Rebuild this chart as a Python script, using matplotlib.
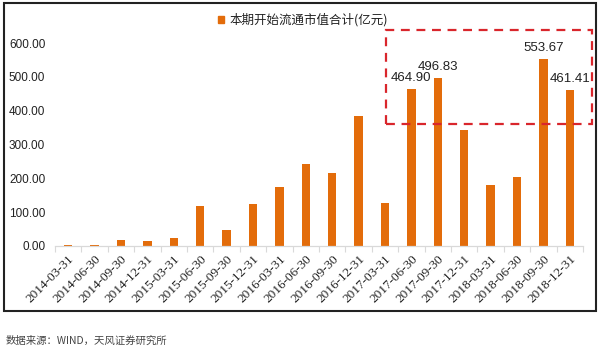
import matplotlib
matplotlib.use("Agg")
import matplotlib.pyplot as plt
from matplotlib.patches import Rectangle

plt.rcParams['font.family'] = ['Noto Sans CJK SC', 'DejaVu Sans']

# ---- data -------------------------------------------------------------------
dates = ["2014-03-31", "2014-06-30", "2014-09-30", "2014-12-31",
         "2015-03-31", "2015-06-30", "2015-09-30", "2015-12-31",
         "2016-03-31", "2016-06-30", "2016-09-30", "2016-12-31",
         "2017-03-31", "2017-06-30", "2017-09-30", "2017-12-31",
         "2018-03-31", "2018-06-30", "2018-09-30", "2018-12-31"]
values = [2.0, 2.0, 18.0, 15.0,
          25.0, 118.0, 47.0, 124.0,
          175.0, 242.0, 215.0, 383.0,
          126.0, 464.90, 496.83, 343.0,
          180.0, 203.0, 553.67, 461.41]
labelled = ["2017-06-30", "2017-09-30", "2018-09-30", "2018-12-31"]
series_name = "本期开始流通市值合计(亿元)"
source = "数据来源：WIND，天风证券研究所"
yticks = [0, 100, 200, 300, 400, 500, 600]

ORANGE = "#E36C0A"
W, H = 600, 352

fig = plt.figure(figsize=(W / 100, H / 100), dpi=100)
ax = fig.add_axes([55 / W, 1 - 246 / H, 528 / W, 203 / H])

x = list(range(len(dates)))
ax.bar(x, values, width=0.32, color=ORANGE, zorder=2)

ax.set_xlim(-0.5, len(dates) - 0.5)
ax.set_ylim(0, 600)
ax.set_yticks(yticks)
ax.set_yticklabels([f"{v:.2f}" for v in yticks], fontsize=8.5,
                   family=["Liberation Sans", "DejaVu Sans"], color="#222222")
ax.tick_params(axis="y", length=0, pad=7)

ax.set_xticks(x)
ax.set_xticklabels(dates, rotation=45, ha="right", rotation_mode="anchor",
                   fontsize=9.5, family=["Liberation Serif", "DejaVu Serif"],
                   color="#222222")
ax.tick_params(axis="x", length=0, pad=5)
# small boundary ticks between categories
ax.set_xticks([i - 0.5 for i in range(len(dates) + 1)], minor=True)
ax.tick_params(axis="x", which="minor", length=4, color="#d9d9d9", width=0.8)

for s in ["top", "right", "left"]:
    ax.spines[s].set_visible(False)
ax.spines["bottom"].set_color("#d9d9d9")
ax.spines["bottom"].set_linewidth(0.9)

for i, (d, v) in enumerate(zip(dates, values)):
    if d in labelled:
        ax.text(i, v + 14, f"{v:.2f}", ha="center", va="bottom", fontsize=9.5,
                family=["Liberation Sans", "DejaVu Sans"], color="#222222")

# red dashed highlight box
fig.add_artist(Rectangle((386 / W, 1 - 124 / H), 206 / W, 94 / H,
                         transform=fig.transFigure, fill=False,
                         edgecolor="#D9262C", linestyle=(0, (4, 3)),
                         linewidth=1.6))

# legend
fig.add_artist(Rectangle((218 / W, 1 - 23 / H), 6 / W, 7 / H,
                         transform=fig.transFigure, color=ORANGE))
fig.text(229 / W, 1 - 19.5 / H, series_name, fontsize=9, va="center",
         ha="left", color="#222222")

# outer frame
fig.add_artist(Rectangle((4 / W, 1 - 311 / H), 592 / W, 308 / H,
                         transform=fig.transFigure, fill=False,
                         edgecolor="#222222", linewidth=1.5))

fig.text(6 / W, 1 - 341 / H, source, fontsize=7.5, style="italic",
         va="center", ha="left", color="#444444")

fig.savefig("out.png", dpi=100)
